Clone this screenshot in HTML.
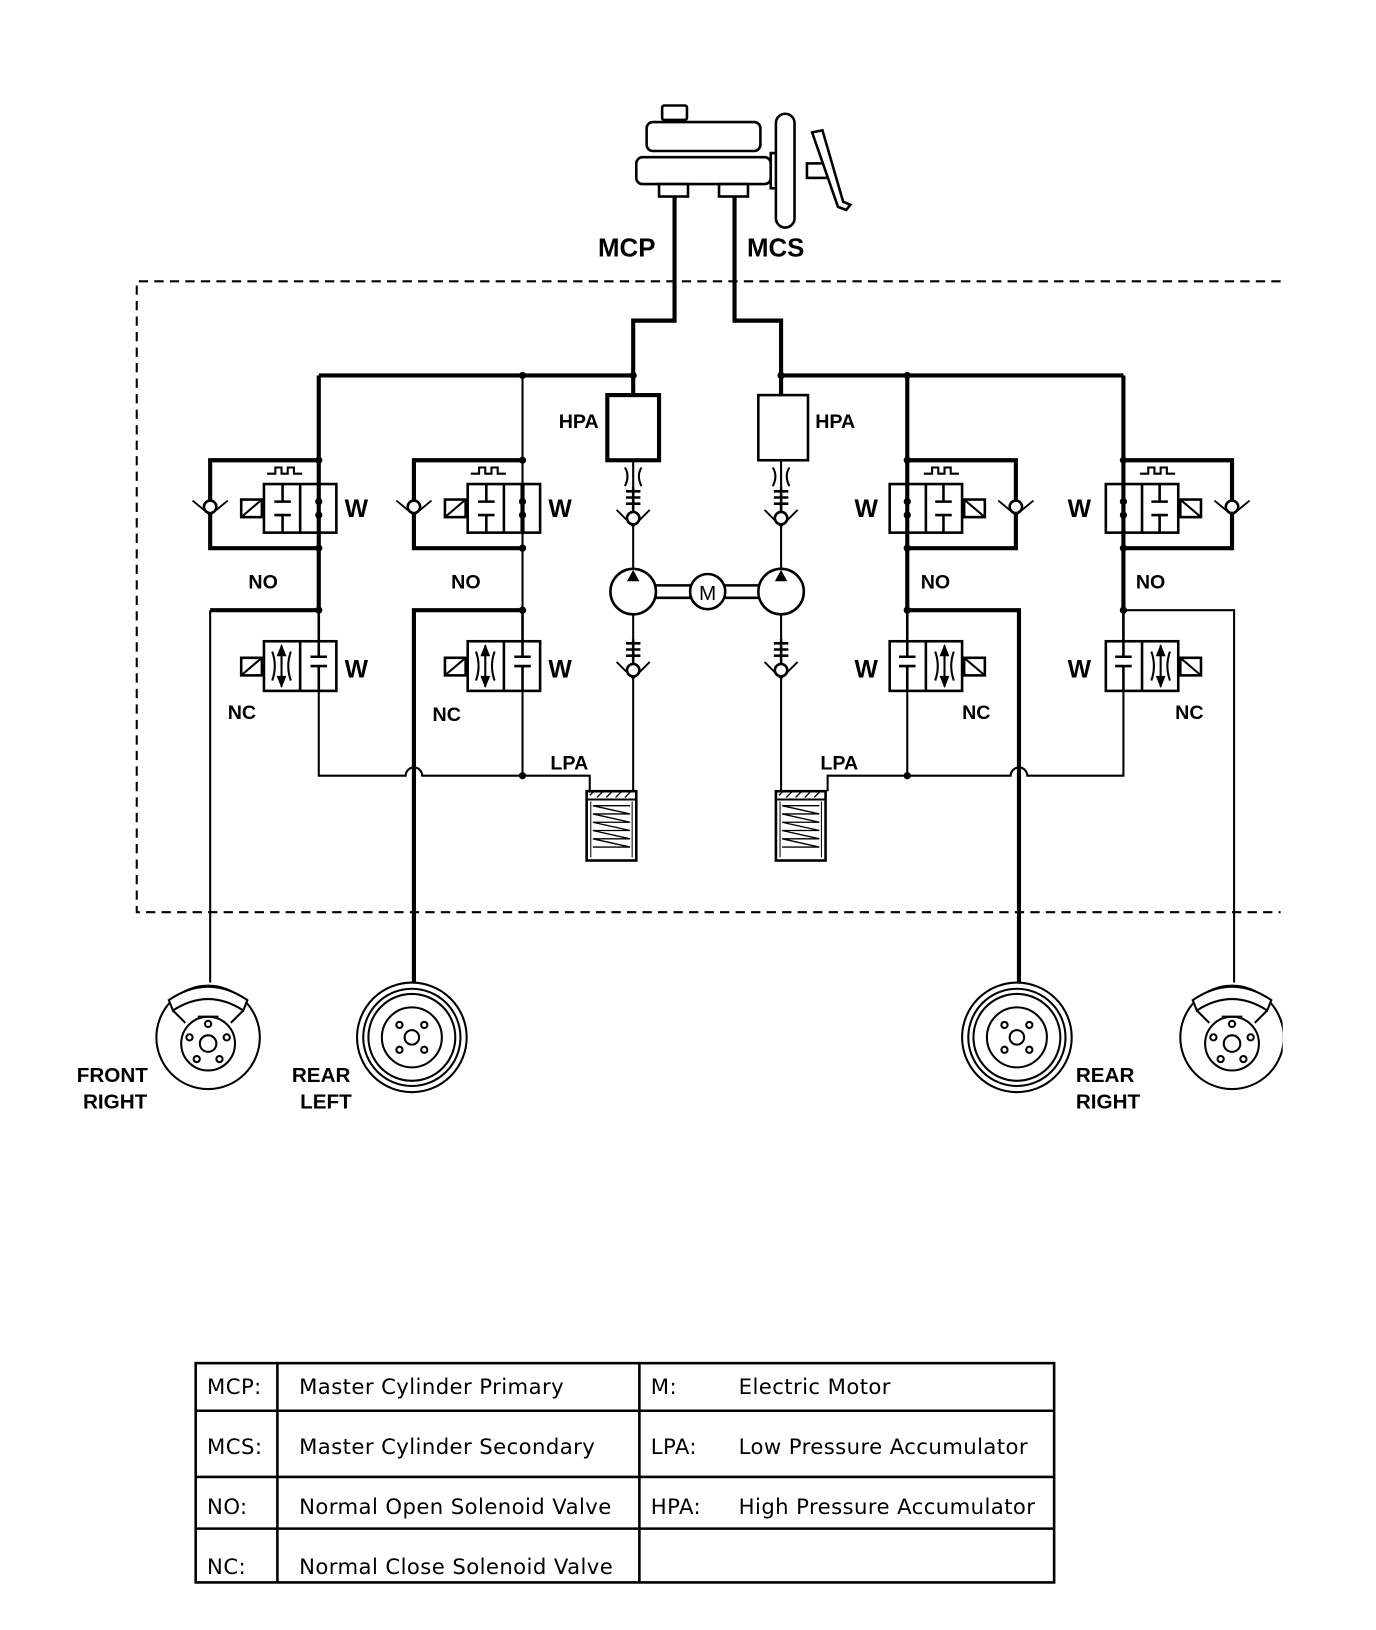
<!DOCTYPE html>
<html><head><meta charset="utf-8"><style>
html,body{margin:0;padding:0;background:#fff;}
svg{display:block;}
text{font-family:"Liberation Sans",Arial,sans-serif;font-weight:bold;fill:#000;}
.tb{font-family:"DejaVu Sans",Verdana,sans-serif;font-weight:normal;font-size:20.5px;letter-spacing:0.4px;}
</style></head><body>
<svg width="1376" height="1630" viewBox="0 0 1330 1576" xmlns="http://www.w3.org/2000/svg">
<defs>
<clipPath id="clipR"><rect x="0" y="0" width="1240" height="1576"/></clipPath>
<g id="novalve" fill="none" stroke="#000">
  <path d="M0,-23 H-105 V62 H0" stroke-width="4"/>
  <rect x="-53" y="0" width="70" height="47" stroke-width="2.5" fill="#fff"/>
  <line x1="-18" y1="0" x2="-18" y2="47" stroke-width="2.5"/>
  <path d="M-35,0 V17 M-43,17 H-27 M-43,30 H-27 M-35,30 V47" stroke-width="2.5"/>
  <line x1="0" y1="0" x2="0" y2="47" stroke-width="4"/>
  <circle cx="0" cy="17" r="3" fill="#000"/><circle cx="0" cy="30" r="3" fill="#000"/>
  <rect x="-75" y="15" width="20" height="17" stroke-width="2.5"/>
  <line x1="-75" y1="32" x2="-55" y2="15" stroke-width="2"/>
  <path d="M-50,-10 H-42 V-16 H-36 V-10 H-30 V-16 H-24 V-10 H-16" stroke-width="2"/>
  <circle cx="-105" cy="22" r="6" fill="#fff" stroke-width="2.5"/>
  <path d="M-122,16 L-105,30 L-88,16" stroke-width="1.8"/>
  <circle cx="0" cy="-23" r="3" fill="#000"/><circle cx="0" cy="62" r="3" fill="#000"/>
</g>
<g id="ncvalve" fill="none" stroke="#000">
  <rect x="-53" y="0" width="70" height="48" stroke-width="2.5" fill="#fff"/>
  <line x1="-18" y1="0" x2="-18" y2="48" stroke-width="2.5"/>
  <path d="M0,-30 V15 M-8,15 H8 M-8,24 H8 M0,24 V48" stroke-width="2.5"/>
  <path d="M-36,4 V44 M-45,10 Q-40,24 -45,38 M-27,10 Q-32,24 -27,38" stroke-width="2"/>
  <path d="M-36,4 L-40,14 H-32 Z M-36,44 L-40,34 H-32 Z" fill="#000" stroke-width="1"/>
  <rect x="-75" y="16" width="20" height="17" stroke-width="2.5"/>
  <line x1="-75" y1="33" x2="-55" y2="16" stroke-width="2"/>
</g>
<g id="spring" fill="none" stroke="#000">
  <path d="M-7,0 H7 M-7,6 H7 M-7,12 H7 M0,-4 V26" stroke-width="2.5"/>
  <circle cx="0" cy="26" r="6" fill="#fff" stroke-width="2.5"/>
  <path d="M-16,18 L0,34 L16,18" stroke-width="1.8"/>
</g>
<g id="lpa" fill="none" stroke="#000">
  <rect x="0" y="0" width="48" height="67" stroke-width="2.5" fill="#fff"/>
  <path d="M0,8 H48" stroke-width="2"/>
  <path d="M3,4 l4,-4 M10,6 l6,-6 M19,6 l6,-6 M28,6 l6,-6 M37,6 l6,-6" stroke-width="1.3"/>
  <path d="M6,14 H42 M6,22 H42 M6,30 H42 M6,38 H42 M6,46 H42 M6,54 H42 M6,14 L42,22 M6,22 L42,30 M6,30 L42,38 M6,38 L42,46 M6,46 L42,54" stroke-width="1.3"/>
  <path d="M4,10 V64 M44,10 V64" stroke-width="1"/>
</g>
<g id="disc" fill="none" stroke="#000" stroke-width="2">
  <circle cx="0" cy="0" r="50"/>
  <circle cx="0" cy="6" r="26"/>
  <circle cx="0" cy="6" r="8"/>
  <circle cx="0" cy="-13" r="3"/><circle cx="-18" cy="0" r="3"/><circle cx="18" cy="0" r="3"/>
  <circle cx="-11" cy="21" r="3"/><circle cx="11" cy="21" r="3"/>
  <path d="M-38,-36 Q0,-62 38,-36 L34,-26 Q0,-48 -34,-26 Z" fill="#fff"/>
  <path d="M-34,-26 L-22,-14 M34,-26 L22,-14 M-10,-20 H10" />
</g>
<g id="drum" fill="none" stroke="#000" stroke-width="2">
  <circle cx="0" cy="0" r="53"/><circle cx="0" cy="0" r="47"/><circle cx="0" cy="0" r="42"/>
  <circle cx="0" cy="0" r="29"/>
  <circle cx="0" cy="0" r="7"/>
  <circle cx="-12" cy="-12" r="3"/><circle cx="12" cy="-12" r="3"/>
  <circle cx="-12" cy="12" r="3"/><circle cx="12" cy="12" r="3"/>
</g>
</defs>

<g fill="#fff" stroke="#000" stroke-width="2.5">
  <rect x="640" y="102" width="24" height="14" rx="2"/>
  <rect x="625" y="118" width="110" height="28" rx="6"/>
  <rect x="615" y="152" width="130" height="26" rx="6"/>
  <rect x="637" y="178" width="28" height="12"/><rect x="695" y="178" width="28" height="12"/>
  <rect x="745" y="148" width="8" height="34"/>
  <rect x="780" y="158" width="20" height="14"/>
  <rect x="750" y="110" width="18" height="110" rx="9"/>
  <path d="M785,128 L795,126 L815,195 L822,198 L818,203 L810,200 Z" fill="#fff"/>
</g>

<path d="M1238,272 H132 V882 H1238" fill="none" stroke="#000" stroke-width="2" stroke-dasharray="9,6"/>

<g fill="none" stroke="#000" stroke-width="4">
  <path d="M652,190 V310 H612 V382"/>
  <path d="M710,190 V310 H755 V382"/>
  <path d="M308,363 H612"/>
  <path d="M755,363 H1086"/>
  <path d="M308,363 V590"/>
  <path d="M1086,363 V590"/>
  <path d="M877,363 V590"/>
  <path d="M203,590 H308"/>
  <path d="M400,950 V590 H505"/>
  <path d="M985,950 V590 H877"/>
</g>
<g fill="none" stroke="#000" stroke-width="2">
  <path d="M505,363 V750"/>
  <path d="M308,590 V750 H392 a8,8 0 0 1 16,0 H570 V765"/>
  <path d="M877,590 V750"/>
  <path d="M1086,590 V750 H993 a8,8 0 0 0 -16,0 H800 V765"/>
  <path d="M203,590 V950"/>
  <path d="M1086,590 H1193 V950"/>
  <path d="M612,445 V765"/>
  <path d="M755,445 V765"/>
</g>
<g fill="#000">
  <circle cx="505" cy="363" r="3.5"/><circle cx="612" cy="363" r="3.5"/>
  <circle cx="755" cy="363" r="3.5"/><circle cx="877" cy="363" r="3.5"/>
  <circle cx="308" cy="590" r="3.5"/><circle cx="505" cy="590" r="3.5"/>
  <circle cx="877" cy="590" r="3.5"/><circle cx="1086" cy="590" r="3.5"/>
  <circle cx="505" cy="750" r="3.5"/><circle cx="877" cy="750" r="3.5"/>
</g>

<use href="#novalve" transform="translate(308,468)"/>
<use href="#novalve" transform="translate(505,468)"/>
<use href="#novalve" transform="translate(877,468) scale(-1,1)"/>
<use href="#novalve" transform="translate(1086,468) scale(-1,1)"/>
<use href="#ncvalve" transform="translate(308,620)"/>
<use href="#ncvalve" transform="translate(505,620)"/>
<use href="#ncvalve" transform="translate(877,620) scale(-1,1)"/>
<use href="#ncvalve" transform="translate(1086,620) scale(-1,1)"/>

<rect x="587" y="382" width="50" height="63" fill="#fff" stroke="#000" stroke-width="4"/>
<rect x="733" y="382" width="48" height="63" fill="#fff" stroke="#000" stroke-width="2.5"/>
<g fill="none" stroke="#000" stroke-width="2">
  <path d="M604,452 Q609,460 604,470 M620,452 Q615,460 620,470"/>
  <path d="M747,452 Q752,460 747,470 M763,452 Q758,460 763,470"/>
</g>
<use href="#spring" transform="translate(612,475)"/>
<use href="#spring" transform="translate(755,475)"/>
<use href="#spring" transform="translate(612,622)"/>
<use href="#spring" transform="translate(755,622)"/>

<g fill="none" stroke="#000" stroke-width="2.5">
  <path d="M634,566 H667 M634,578 H667 M701,566 H733 M701,578 H733"/>
  <circle cx="612" cy="572" r="22" fill="#fff"/>
  <circle cx="755" cy="572" r="22" fill="#fff"/>
  <circle cx="684" cy="572" r="17" fill="#fff"/>
</g>
<path d="M612,551 L606,562 H618 Z M755,551 L749,562 H761 Z" fill="#000"/>
<text x="684" y="580" font-size="20" text-anchor="middle" style="font-weight:normal">M</text>

<use href="#lpa" transform="translate(567,765)"/>
<use href="#lpa" transform="translate(750,765)"/>

<use href="#disc" transform="translate(201,1003)"/>
<use href="#drum" transform="translate(398,1003)"/>
<use href="#drum" transform="translate(983,1003)"/>
<g clip-path="url(#clipR)"><use href="#disc" transform="translate(1191,1003)"/></g>

<text x="578" y="248" font-size="25">MCP</text>
<text x="722" y="248" font-size="25">MCS</text>
<g font-size="19">
<text x="540" y="414">HPA</text><text x="788" y="414">HPA</text>
<text x="240" y="569">NO</text><text x="436" y="569">NO</text>
<text x="890" y="569">NO</text><text x="1098" y="569">NO</text>
<text x="220" y="695">NC</text><text x="418" y="697">NC</text>
<text x="930" y="695">NC</text><text x="1136" y="695">NC</text>
<text x="532" y="744">LPA</text><text x="793" y="744">LPA</text>
</g>
<g font-size="24">
<text x="333" y="500">W</text><text x="530" y="500">W</text>
<text x="826" y="500">W</text><text x="1032" y="500">W</text>
<text x="333" y="655">W</text><text x="530" y="655">W</text>
<text x="826" y="655">W</text><text x="1032" y="655">W</text>
</g>
<g font-size="20">
<text x="74" y="1046">FRONT</text><text x="80" y="1072">RIGHT</text>
<text x="282" y="1046">REAR</text><text x="290" y="1072">LEFT</text>
<text x="1040" y="1046">REAR</text><text x="1040" y="1072">RIGHT</text>
</g>

<g fill="none" stroke="#000" stroke-width="2.5">
  <rect x="189" y="1318" width="830" height="212"/>
  <path d="M189,1364 H1019 M189,1428 H1019 M189,1478 H1019 M268,1318 V1530 M618,1318 V1530"/>
</g>
<text class="tb" x="200" y="1348">MCP:</text><text class="tb" x="289" y="1348">Master Cylinder Primary</text>
<text class="tb" x="629" y="1348">M:</text><text class="tb" x="714" y="1348">Electric Motor</text>
<text class="tb" x="200" y="1406">MCS:</text><text class="tb" x="289" y="1406">Master Cylinder Secondary</text>
<text class="tb" x="629" y="1406">LPA:</text><text class="tb" x="714" y="1406">Low Pressure Accumulator</text>
<text class="tb" x="200" y="1464">NO:</text><text class="tb" x="289" y="1464">Normal Open Solenoid Valve</text>
<text class="tb" x="629" y="1464">HPA:</text><text class="tb" x="714" y="1464">High Pressure Accumulator</text>
<text class="tb" x="200" y="1522">NC:</text><text class="tb" x="289" y="1522">Normal Close Solenoid Valve</text>
</svg>
</body></html>
